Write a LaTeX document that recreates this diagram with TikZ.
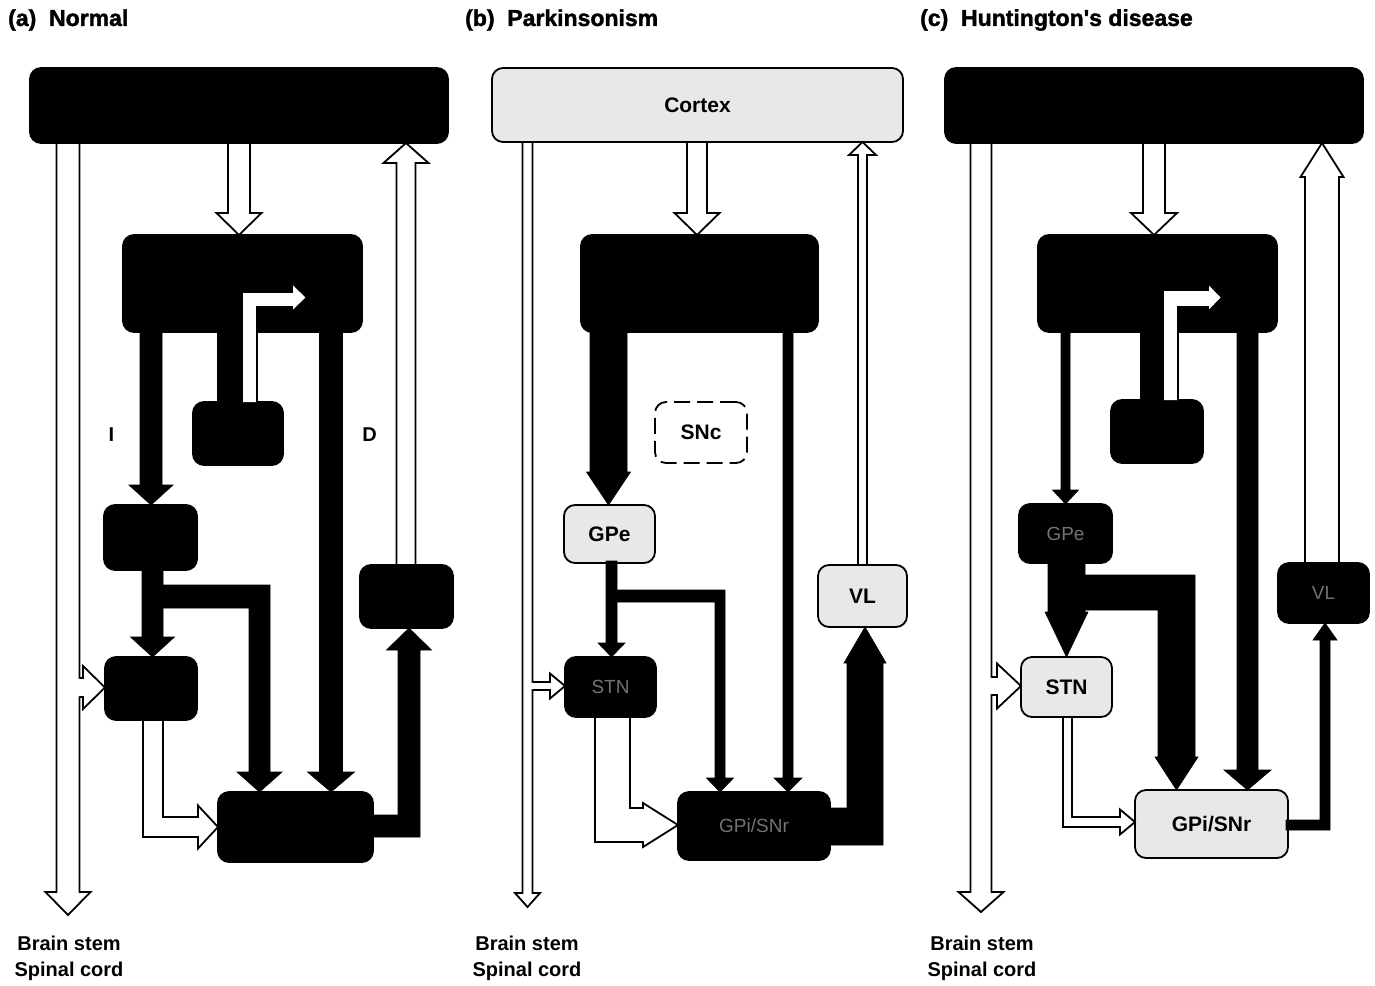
\documentclass[tikz,border=0pt]{standalone}
\usepackage{fontspec}
\setmainfont{Liberation Sans}
\newfontfamily\heavyfont[BoldFeatures={FakeBold=1.6}]{Liberation Sans}
\newcommand\arrdown[7]{%
 \path[#1] ({#2-#5},#3) -- ({#2-#5},{#4-#7}) -- ({#2-#6},{#4-#7}) -- (#2,#4) -- ({#2+#6},{#4-#7}) -- ({#2+#5},{#4-#7}) -- ({#2+#5},#3) -- cycle;}
\newcommand\arrup[7]{%
 \path[#1] ({#2-#5},#3) -- ({#2-#5},{#4+#7}) -- ({#2-#6},{#4+#7}) -- (#2,#4) -- ({#2+#6},{#4+#7}) -- ({#2+#5},{#4+#7}) -- ({#2+#5},#3) -- cycle;}
\newcommand\branchright[6]{%
 \fill[white] ({#1-1.5},{#2-#4+1}) rectangle ({#1+1.5},{#2+#4-1});
 \draw[hol] (#1,{#2-#4}) -- ({#3-#6},{#2-#4}) -- ({#3-#6},{#2-#5}) -- (#3,#2) -- ({#3-#6},{#2+#5}) -- ({#3-#6},{#2+#4}) -- (#1,{#2+#4});}
\begin{document}
\begin{tikzpicture}[x=1pt,y=-1pt,
  blk/.style={rectangle, rounded corners=11pt, fill=black, draw=black, line width=1.8pt, inner sep=0pt},
  lit/.style={rectangle, rounded corners=11pt, fill=black!9, draw=black, line width=1.8pt, inner sep=0pt, font=\bfseries\fontsize{21}{24}\selectfont},
  dsh/.style={rectangle, rounded corners=11pt, fill=white, draw=black, line width=1.8pt, dash pattern=on 16pt off 7pt, inner sep=0pt, font=\bfseries\fontsize{21}{24}\selectfont},
  fnt/.style={text=black!55, font=\fontsize{19}{22}\selectfont},
  hol/.style={draw=black, fill=white, line width=1.8pt, line join=miter},
  sol/.style={fill=black, draw=black, line width=0.6pt, line join=miter},
  ttl/.style={anchor=west, inner sep=0pt, font=\heavyfont\bfseries\fontsize{23}{26}\selectfont},
  bot/.style={align=center, inner sep=0pt, font=\bfseries\fontsize{20}{26}\selectfont},
  pth/.style={inner sep=0pt, font=\bfseries\fontsize{20}{24}\selectfont}]
\useasboundingbox[fill=white] (0,0) rectangle (1375,985);

% ---------- titles ----------
\node[ttl] (tA) at (8,20) {(a)\ \ Normal};
\node[ttl] (tB) at (465,20) {(b)\ \ Parkinsonism};
\node[ttl] (tC) at (920,20) {(c)\ \ Huntington's disease};

% ---------- panel (a) nodes ----------
\node[blk, minimum width=418pt, minimum height=75pt] (corA) at (239,105.5) {};
\node[blk, minimum width=239pt, minimum height=97pt] (strA) at (242.5,283.5) {};
\node[blk, minimum width=90pt, minimum height=63pt] (sncA) at (238,433.5) {};
\node[blk, minimum width=93pt, minimum height=65pt] (gpeA) at (150.5,537.5) {};
\node[blk, minimum width=92pt, minimum height=63pt] (stnA) at (151,688.5) {};
\node[blk, minimum width=155pt, minimum height=70pt] (gpiA) at (295.5,827) {};
\node[blk, minimum width=93pt, minimum height=63pt] (vlA) at (406.5,596.5) {};

% ---------- panel (b) nodes ----------
\node[lit, minimum width=411pt, minimum height=74pt] (corB) at (697.5,105) {Cortex};
\node[blk, minimum width=237pt, minimum height=97pt] (strB) at (699.5,283.5) {};
\node[dsh, minimum width=92pt, minimum height=61pt] (sncB) at (701,432.5) {SNc};
\node[lit, minimum width=91pt, minimum height=58pt] (gpeB) at (609.5,534) {GPe};
\node[blk, fnt, minimum width=91pt, minimum height=60pt] (stnB) at (610.5,687) {STN};
\node[blk, fnt, minimum width=152pt, minimum height=68pt] (gpiB) at (754,826) {GPi/SNr};
\node[lit, minimum width=89pt, minimum height=62pt] (vlB) at (862.5,596) {VL};

% ---------- panel (c) nodes ----------
\node[blk, minimum width=418pt, minimum height=75pt] (corC) at (1154,105.5) {};
\node[blk, minimum width=239pt, minimum height=97pt] (strC) at (1157.5,283.5) {};
\node[blk, minimum width=92pt, minimum height=63pt] (sncC) at (1157,431.5) {};
\node[blk, fnt, minimum width=93pt, minimum height=59pt] (gpeC) at (1065.5,533.5) {GPe};
\node[lit, minimum width=91pt, minimum height=60pt] (stnC) at (1066.5,687) {STN};
\node[lit, minimum width=153pt, minimum height=68pt] (gpiC) at (1211.5,824) {GPi/SNr};
\node[blk, fnt, minimum width=91pt, minimum height=60pt] (vlC) at (1323.5,593) {VL};

% ---------- panel (a) connectors ----------
\arrdown{hol}{68}{143}{915}{11.5}{22.5}{23}
\branchright{79.5}{687.5}{105}{9.5}{21.5}{22}
\arrdown{hol}{239}{143}{235}{11}{22.5}{22}
\arrup{hol}{406}{565}{143}{9.5}{22.5}{20}
\fill[black] (217,402) rectangle (242,330);
\draw[hol] (242,402) -- (242,292) -- (292,292) -- (292,283) -- (307,297.5) -- (292,312) -- (292,307) -- (257,307) -- (257,402);
\arrdown{sol}{151}{330}{505}{11}{22}{20}
\arrdown{sol}{331}{330}{792}{11.5}{23.5}{20}
\arrdown{sol}{152.5}{568}{657}{10.5}{22}{20}
\path[sol] (152,585) -- (270,585) -- (270,772) -- (282,772) -- (259.5,792) -- (237,772) -- (249,772) -- (249,608) -- (152,608) -- cycle;
\path[hol] (143,720) -- (143,837) -- (198,837) -- (198,848.5) -- (218,827) -- (198,805.5) -- (198,817) -- (163,817) -- (163,720) -- cycle;
\path[sol] (371,815) -- (398,815) -- (398,650) -- (386.5,650) -- (409,628) -- (431.5,650) -- (420,650) -- (420,837) -- (371,837) -- cycle;
\node[pth] (labI) at (111.5,435) {I};
\node[pth] (labD) at (369.5,435) {D};
\node[bot] (bsA) at (69,958) {Brain stem\\Spinal cord};

% ---------- panel (b) connectors ----------
\arrdown{hol}{527.5}{142}{907}{5}{12.5}{14}
\branchright{532.5}{686}{565}{4}{12.5}{15}
\arrdown{hol}{697}{142}{235}{10}{22.5}{22}
\arrup{hol}{862.5}{565}{142}{4.5}{13.5}{13}
\arrdown{sol}{608.5}{330}{505}{18.5}{22}{33}
\arrdown{sol}{788}{330}{792}{5}{14}{14}
\arrdown{sol}{611.5}{561}{657}{5.5}{13.5}{14}
\path[sol] (611,590) -- (725,590) -- (725,778) -- (733.5,778) -- (720,792) -- (706.5,778) -- (715,778) -- (715,602) -- (611,602) -- cycle;
\path[hol] (595,717) -- (595,842) -- (643,842) -- (643,847) -- (678,825) -- (643,803) -- (643,808) -- (630,808) -- (630,717) -- cycle;
\path[sol] (828,808) -- (847,808) -- (847,663) -- (844,663) -- (865,627) -- (886,663) -- (883,663) -- (883,845) -- (828,845) -- cycle;
\node[bot] (bsB) at (527,958) {Brain stem\\Spinal cord};

% ---------- panel (c) connectors ----------
\arrdown{hol}{981}{143}{912}{10.5}{22.5}{20}
\branchright{991.5}{686}{1021}{9}{22.5}{24}
\arrdown{hol}{1154}{143}{235}{11}{23}{22}
\arrup{hol}{1322}{563}{143}{17}{21.5}{34}
\fill[black] (1140,400) rectangle (1163,330);
\draw[hol] (1163,400) -- (1163,290) -- (1208,290) -- (1208,283) -- (1222,297.5) -- (1208,312) -- (1208,307) -- (1178,307) -- (1178,400);
\arrdown{sol}{1065.5}{330}{504}{4.5}{13}{14}
\arrdown{sol}{1247.5}{330}{790}{10.5}{23.5}{20}
\arrdown{sol}{1066.5}{561}{657}{18.5}{21.5}{45}
\path[sol] (1066,575) -- (1195,575) -- (1195,757) -- (1198,757) -- (1176.5,790) -- (1155,757) -- (1158,757) -- (1158,610) -- (1066,610) -- cycle;
\path[hol] (1063,717) -- (1063,827) -- (1120,827) -- (1120,834.5) -- (1135,822) -- (1120,809.5) -- (1120,817) -- (1072,817) -- (1072,717) -- cycle;
\path[sol] (1286,820) -- (1320,820) -- (1320,640) -- (1313,640) -- (1325,623) -- (1337,640) -- (1330,640) -- (1330,830) -- (1286,830) -- cycle;
\node[bot] (bsC) at (982,958) {Brain stem\\Spinal cord};
\end{tikzpicture}
\end{document}
